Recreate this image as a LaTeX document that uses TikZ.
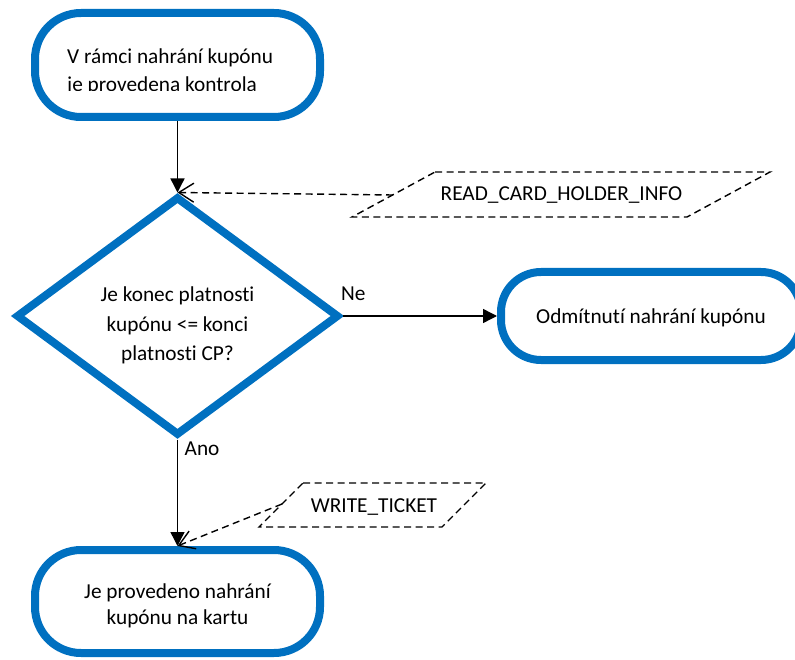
\documentclass[tikz,border=0pt]{standalone}
\usepackage{fontspec}
\setmainfont{Carlito}[Ligatures=NoCommon]
\usetikzlibrary{arrows.meta,shapes.geometric}
\definecolor{ofblue}{HTML}{0070C0}
\begin{document}
\begin{tikzpicture}[x=1pt,y=-1pt,
  every node/.style={inner sep=0pt, font=\fontsize{21.3}{28}\selectfont},
  term/.style={draw=ofblue, line width=8pt, rectangle, rounded corners=#1},
  term/.default=46pt,
  decision/.style={draw=ofblue, line width=8pt, diamond, shape aspect=1.4,
                   minimum width=323pt, minimum height=239pt},
  txt/.style={anchor=base, align=center},
  flow/.style={line width=1.4pt, -{Triangle[length=14pt,width=14pt]}},
  dataline/.style={line width=1.4pt, dash pattern=on 7pt off 4.5pt},
  dataflow/.style={dataline, -{Straight Barb[length=15pt,width=19pt]}},
  lbl/.style={anchor=base west}
]
\useasboundingbox (0,0) rectangle (795,660);

% terminals
\node[term, minimum width=285pt, minimum height=104pt] (t1) at (177.5,65) {};
\node[term=40pt, minimum width=300pt, minimum height=88pt] (t3) at (651,316) {};
\node[term, minimum width=285pt, minimum height=103pt] (t4) at (177.5,601.5) {};
% decision
\node[decision] (d) at (177.5,316) {};

% texts (base anchor = baseline of the last line)
\begin{scope}
  \clip (40,20) rectangle (320,90.5);
  \node[anchor=base west, align=left] (t1txt) at (67,91.3)
    {V rámci nahrání kupónu\\je provedena kontrola};
\end{scope}
\node[txt, font=\fontsize{21.3}{29.5}\selectfont] (dtxt) at (177.5,360.7)
  {Je konec platnosti\\kupónu <= konci\\platnosti CP?};
\node[txt] (t3txt) at (651,323.3) {Odmítnutí nahrání kupónu};
\node[txt, font=\fontsize{21.3}{25.7}\selectfont] (t4txt) at (177.5,624)
  {Je provedeno nahrání\\kupónu na kartu};

% data boxes
\coordinate (r1) at (435,172);
\coordinate (r2) at (770,172);
\coordinate (r3) at (687,217);
\coordinate (r4) at (352,217);
\draw[dataline] (r1) -- (r2) -- (r3) -- (r4) -- cycle;
\node[txt] (rtxt) at (561.5,201) {READ\_CARD\_HOLDER\_INFO};
\coordinate (rl) at (393,195);

\coordinate (w1) at (303,483);
\coordinate (w2) at (486,483);
\coordinate (w3) at (442,527);
\coordinate (w4) at (259,527);
\draw[dataline] (w1) -- (w2) -- (w3) -- (w4) -- cycle;
\node[txt] (wtxt) at (374,512) {WRITE\_TICKET};
\coordinate (wl) at (282,504);

% connectors
\draw[flow] (t1.south) -- (d.north);
\draw[flow] (d.east) -- (t3.west);
\draw[flow] (d.south) -- (t4.north);
\draw[dataflow] (rl) -- (d.north);
\draw[dataflow] (wl) -- (t4.north);

% labels
\node[lbl] (ne) at (341,301) {Ne};
\node[lbl] (ano) at (184.5,455) {Ano};
\end{tikzpicture}
\end{document}
